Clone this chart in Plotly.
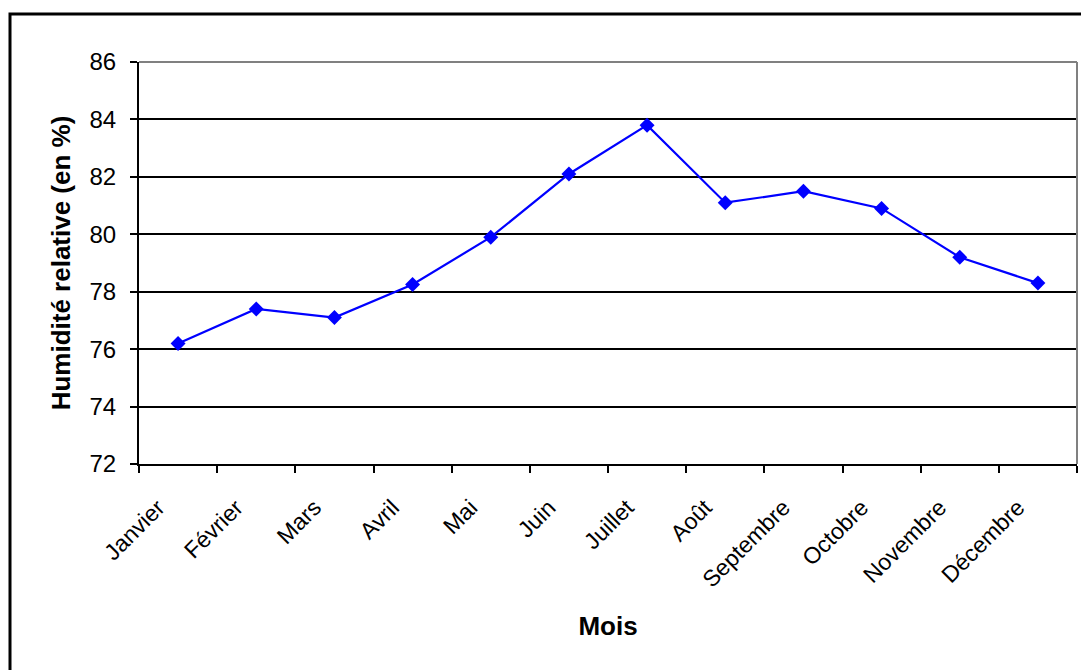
import plotly.graph_objects as go

# Humidité relative moyenne mensuelle
mois = ["Janvier", "Février", "Mars", "Avril", "Mai", "Juin", "Juillet",
        "Août", "Septembre", "Octobre", "Novembre", "Décembre"]
humidite = [76.2, 77.4, 77.1, 78.25, 79.9, 82.1, 83.8, 81.1, 81.5, 80.9, 79.2, 78.3]
graduations_y = [72, 74, 76, 78, 80, 82, 84, 86]

FONT = "Liberation Sans, Arial, sans-serif"

fig = go.Figure(
    go.Scatter(
        x=mois,
        y=humidite,
        mode="lines+markers",
        line=dict(color="#0000FF", width=2.2),
        marker=dict(symbol="diamond", size=11.5, color="#0000FF"),
        showlegend=False,
        hoverinfo="x+y",
    )
)

fig.update_layout(
    width=1081,
    height=670,
    margin=dict(l=139, r=4, t=62, b=206),
    paper_bgcolor="white",
    plot_bgcolor="white",
    font=dict(family=FONT, size=22, color="black"),
    xaxis=dict(
        type="category",
        range=[-0.5, len(mois) - 0.5],
        tickangle=-45,
        tickson="boundaries",
        ticks="outside",
        ticklen=7,
        tickwidth=2,
        tickcolor="black",
        ticklabelstandoff=19,
        ticklabelshift=-20,
        showline=True,
        linecolor="black",
        linewidth=2,
        showgrid=False,
        tickfont=dict(size=23),
        title=dict(text="<b>Mois</b>", font=dict(size=26), standoff=25),
    ),
    yaxis=dict(
        range=[72, 86],
        tickvals=graduations_y,
        ticks="outside",
        ticklen=7,
        tickwidth=2,
        tickcolor="black",
        ticklabelstandoff=9,
        showline=True,
        linecolor="black",
        linewidth=2,
        showgrid=True,
        gridcolor="black",
        gridwidth=2,
        zeroline=False,
        tickfont=dict(size=24),
        title=dict(text="<b>Humidité relative (en %)</b>", font=dict(size=26), standoff=11),
    ),
    shapes=[
        # gray frame of the plotting area (top and right edges)
        dict(type="line", xref="paper", yref="paper", x0=0, x1=1, y0=1, y1=1,
             line=dict(color="#808080", width=2), layer="above"),
        dict(type="line", xref="paper", yref="paper", x0=1, x1=1, y0=0, y1=1,
             line=dict(color="#808080", width=2), layer="above"),
        # outer chart border
        dict(type="rect", xref="paper", yref="paper",
             x0=(10 - 139) / 938, x1=1.2, y0=-0.7, y1=(464 - 14) / 402,
             line=dict(color="black", width=3), layer="above"),
    ],
)

fig.write_html("out.html")
